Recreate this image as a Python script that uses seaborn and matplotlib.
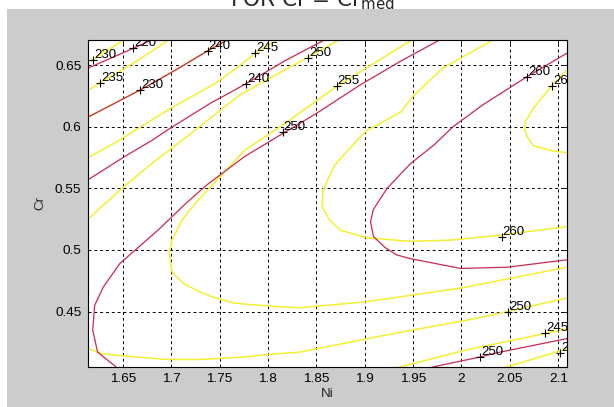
import matplotlib
matplotlib.use("Agg")
import matplotlib.pyplot as plt
import matplotlib.transforms as mtransforms
from matplotlib.patches import Rectangle
import seaborn as sns

# ── Contour lines (Ni, Cr) ────────────────────────────────────────────────
# red set (levels every 10)
red_220_ni = [1.606, 1.661, 1.689]
red_220_cr = [0.645, 0.664, 0.674]
red_230_ni = [1.606, 1.614, 1.668, 1.704, 1.738, 1.761]
red_230_cr = [0.604, 0.608, 0.630, 0.646, 0.662, 0.672]
red_240_ni = [1.606, 1.614, 1.652, 1.680, 1.699, 1.740, 1.777, 1.818, 1.859, 1.869]
red_240_cr = [0.553, 0.557, 0.576, 0.589, 0.599, 0.619, 0.635, 0.654, 0.671, 0.675]
red_250_ni = [1.645, 1.643, 1.624, 1.619, 1.621, 1.630, 1.647, 1.663, 1.689, 1.714,
              1.737, 1.776, 1.816, 1.850, 1.895, 1.936, 1.978, 1.988]
red_250_cr = [0.401, 0.405, 0.417, 0.435, 0.455, 0.470, 0.489, 0.500, 0.518, 0.537,
              0.553, 0.576, 0.595, 0.611, 0.634, 0.653, 0.671, 0.675]
red_250b_ni = [1.962, 1.971, 2.019, 2.040, 2.109, 2.117]
red_250b_cr = [0.403, 0.405, 0.413, 0.417, 0.428, 0.430]
red_260_ni = [2.117, 2.109, 2.068, 2.022, 1.991, 1.971, 1.947, 1.923, 1.909, 1.906,
              1.909, 1.921, 1.933, 1.947, 1.999, 2.047, 2.109, 2.117]
red_260_cr = [0.663, 0.660, 0.641, 0.618, 0.600, 0.585, 0.570, 0.550, 0.533, 0.523,
              0.511, 0.502, 0.496, 0.493, 0.485, 0.486, 0.492, 0.493]

# yellow set (levels every 5)
yel_230_ni = [1.606, 1.620, 1.653]
yel_230_cr = [0.650, 0.655, 0.672]
yel_235_ni = [1.606, 1.627, 1.649, 1.673, 1.704]
yel_235_cr = [0.626, 0.636, 0.646, 0.658, 0.674]
yel_240_ni = red_230_ni   # runs on top of the red 230 line
yel_240_cr = red_230_cr
yel_240b_ni = [2.040, 2.047, 2.102, 2.109, 2.117]
yel_240b_cr = [0.403, 0.405, 0.418, 0.420, 0.422]
yel_245_ni = [1.606, 1.614, 1.646, 1.699, 1.747, 1.771, 1.787, 1.813]
yel_245_cr = [0.571, 0.575, 0.589, 0.615, 0.636, 0.650, 0.660, 0.672]
yel_245b_ni = [1.931, 1.937, 2.006, 2.086, 2.109, 2.117]
yel_245b_cr = [0.404, 0.405, 0.419, 0.432, 0.436, 0.438]
yel_250_ni = [1.606, 1.614, 1.649, 1.678, 1.711, 1.771, 1.842, 1.874, 1.885]
yel_250_cr = [0.520, 0.525, 0.550, 0.569, 0.589, 0.626, 0.657, 0.671, 0.675]
yel_250b_ni = [1.606, 1.614, 1.627, 1.649, 1.696, 1.730, 1.776, 1.799, 1.833, 1.936,
               2.006, 2.048, 2.109, 2.117]
yel_250b_cr = [0.422, 0.420, 0.416, 0.414, 0.411, 0.411, 0.413, 0.415, 0.417, 0.433,
               0.443, 0.450, 0.461, 0.463]
yel_255_ni = [1.952, 1.947, 1.871, 1.816, 1.776, 1.738, 1.725, 1.711, 1.701, 1.698,
              1.701, 1.714, 1.730, 1.742, 1.764, 1.776, 1.809, 1.833, 1.902, 1.999,
              2.109, 2.117]
yel_255_cr = [0.672, 0.670, 0.633, 0.602, 0.581, 0.549, 0.538, 0.524, 0.508, 0.498,
              0.482, 0.472, 0.466, 0.462, 0.457, 0.456, 0.454, 0.453, 0.458, 0.469,
              0.486, 0.488]
yel_260_ni = [2.038, 2.033, 1.981, 1.950, 1.937, 1.902, 1.892, 1.869, 1.857, 1.856,
              1.864, 1.875, 1.902, 1.947, 1.988, 2.040, 2.109, 2.117]
yel_260_cr = [0.673, 0.671, 0.648, 0.625, 0.612, 0.597, 0.589, 0.569, 0.549, 0.535,
              0.524, 0.516, 0.510, 0.507, 0.508, 0.512, 0.519, 0.520]
yel_265_ni = [2.117, 2.109, 2.094, 2.074, 2.066, 2.065, 2.068, 2.074, 2.091, 2.109, 2.117]
yel_265_cr = [0.653, 0.646, 0.634, 0.615, 0.604, 0.598, 0.592, 0.585, 0.581, 0.579, 0.579]

red_lines = [(red_220_ni, red_220_cr), (red_230_ni, red_230_cr), (red_240_ni, red_240_cr),
             (red_250_ni, red_250_cr), (red_250b_ni, red_250b_cr), (red_260_ni, red_260_cr)]
yel_lines = [(yel_230_ni, yel_230_cr), (yel_235_ni, yel_235_cr), (yel_240_ni, yel_240_cr),
             (yel_240b_ni, yel_240b_cr), (yel_245_ni, yel_245_cr), (yel_245b_ni, yel_245b_cr),
             (yel_250_ni, yel_250_cr), (yel_250b_ni, yel_250b_cr), (yel_255_ni, yel_255_cr),
             (yel_260_ni, yel_260_cr), (yel_265_ni, yel_265_cr)]

# clabel positions
label_ni = [1.6196, 1.6610, 1.6266, 1.6679, 1.7376, 1.7867, 1.8417, 1.7774, 1.8711,
            1.8153, 2.0677, 2.0935, 2.0415, 2.0483, 2.0863, 2.1018, 2.0192]
label_cr = [0.6541, 0.6640, 0.6355, 0.6301, 0.6618, 0.6599, 0.6561, 0.6350, 0.6337,
            0.5959, 0.6407, 0.6333, 0.5108, 0.4492, 0.4323, 0.4163, 0.4134]
label_txt = ["230", "220", "235", "230", "240", "245", "250", "240", "255",
             "250", "260", "265", "260", "250", "245", "240", "250"]

x_ticks = [1.65, 1.7, 1.75, 1.8, 1.85, 1.9, 1.95, 2.0, 2.05, 2.1]
x_ticklabels = ["1.65", "1.7", "1.75", "1.8", "1.85", "1.9", "1.95", "2", "2.05", "2.1"]
y_ticks = [0.45, 0.5, 0.55, 0.6, 0.65]
y_ticklabels = ["0.45", "0.5", "0.55", "0.6", "0.65"]

RED = "#c92a52"
YEL = "#f4f030"

sns.set_theme(style="white")
plt.rcParams["font.family"] = ["Liberation Sans", "DejaVu Sans"]
plt.rcParams["mathtext.default"] = "regular"

W, H = 614, 407
fig = plt.figure(figsize=(W / 100, H / 100), dpi=100, facecolor="white")
fig.add_artist(Rectangle((7 / W, 0), 1, (H - 9) / H, transform=fig.transFigure,
                         facecolor="#cccccc", edgecolor="none", zorder=-10))
ax = fig.add_axes([87.7 / W, (H - 366.5) / H, 479 / W, 326.5 / H])
ax.set_facecolor("white")

for ni, cr in yel_lines:
    sns.lineplot(x=ni, y=cr, sort=False, estimator=None, color=YEL, linewidth=1.1, ax=ax)
for ni, cr in red_lines:
    sns.lineplot(x=ni, y=cr, sort=False, estimator=None, color=RED, linewidth=0.9, ax=ax)

sns.scatterplot(x=label_ni, y=label_cr, marker="+", s=40, color="black",
                linewidth=0.8, ax=ax, zorder=5)
off = mtransforms.offset_copy(ax.transData, fig=fig, x=1, y=2, units="dots")
for ni, cr, t in zip(label_ni, label_cr, label_txt):
    ax.text(ni, cr, t, transform=off, ha="left", va="baseline", fontsize=9.5,
            color="black", clip_on=True, zorder=6)

ax.set_xlim(1.6138, 2.1087)
ax.set_ylim(0.4053, 0.6707)
ax.set_xticks(x_ticks)
ax.set_xticklabels(x_ticklabels)
ax.set_yticks(y_ticks)
ax.set_yticklabels(y_ticklabels)
ax.tick_params(direction="in", length=4, width=0.6, colors="black", labelsize=9.7,
               top=True, right=True, pad=4.5)
ax.grid(True, color="black", linestyle=(0, (3, 3)), linewidth=0.7)
for s in ax.spines.values():
    s.set_color("black")
    s.set_linewidth(0.8)
ax.set_xlabel("Ni", fontsize=9.7, labelpad=2)
ax.set_ylabel("Cr", fontsize=9.7, labelpad=6)

fig.text(0.509, 1 - 6.5 / H, r"FOR Cr = Cr$_{med}$", ha="center", va="baseline",
         fontsize=15.5, family="DejaVu Sans")

fig.savefig("out.png", dpi=100, facecolor=fig.get_facecolor())
